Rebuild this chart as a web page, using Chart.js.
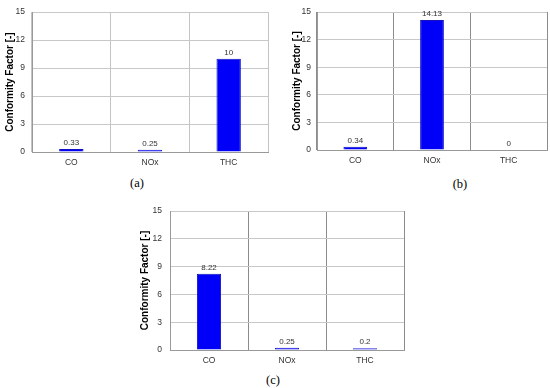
<!DOCTYPE html>
<html>
<head>
<meta charset="utf-8">
<script src="https://cdn.jsdelivr.net/npm/chart.js@4/dist/chart.umd.min.js"></script>
<style>
  html, body { margin: 0; padding: 0; background: #fff; }
  body { width: 550px; height: 388px; position: relative; overflow: hidden; }
  canvas { position: absolute; }
  .cap { position: absolute; font-family: "Liberation Serif", "DejaVu Serif", serif; font-size: 12.5px; color: #000; transform: translate(-50%, -50%); white-space: nowrap; }
</style>
</head>
<body>
<canvas id="ca" width="275" height="172" style="left:0px;top:0px;"></canvas>
<canvas id="cb" width="270" height="170" style="left:280px;top:0px;"></canvas>
<canvas id="cc" width="280" height="172" style="left:130px;top:195px;"></canvas>
<div class="cap" style="left:137px;top:183px;">(a)</div>
<div class="cap" style="left:460px;top:184px;">(b)</div>
<div class="cap" style="left:273px;top:380px;">(c)</div>
<script>
const categories = ["CO", "NOx", "THC"];
const valuesA = [0.33, 0.25, 10];
const valuesB = [0.34, 14.13, 0];
const valuesC = [8.22, 0.25, 0.2];
const yTicks = [0, 3, 6, 9, 12, 15];
const yTitle = "Conformity Factor [-]";

const valueLabels = {
  id: 'valueLabels',
  afterDatasetsDraw(chart) {
    const ctx = chart.ctx;
    const meta = chart.getDatasetMeta(0);
    const data = chart.data.datasets[0].data;
    ctx.save();
    ctx.font = '8px "Liberation Sans", Arial, sans-serif';
    ctx.fillStyle = '#333';
    ctx.textAlign = 'center';
    ctx.textBaseline = 'bottom';
    meta.data.forEach((bar, i) => {
      ctx.fillText(String(data[i]), bar.x, bar.y - 2);
    });
    ctx.restore();
  }
};

function makeChart(id, values, cfg) {
  return new Chart(document.getElementById(id), {
    type: 'bar',
    data: {
      labels: categories,
      datasets: [{
        data: values,
        backgroundColor: '#0000f8',
        borderColor: '#1010c0',
        borderWidth: 1,
        categoryPercentage: 1,
        barPercentage: 0.31
      }]
    },
    options: {
      responsive: false,
      animation: false,
      devicePixelRatio: 1,
      layout: { padding: { left: 0, top: cfg.top, right: cfg.right, bottom: 0 } },
      plugins: { legend: { display: false }, tooltip: { enabled: false } },
      scales: {
        x: {
          grid: { display: true, offset: true, color: cfg.vgrid, lineWidth: 1, drawTicks: false },
          border: { display: true, color: '#999' },
          ticks: { font: { family: '"Liberation Sans", Arial, sans-serif', size: 8.5 }, color: '#333', padding: 6 },
          afterFit: (s) => { s.height = cfg.xh; }
        },
        y: {
          min: 0, max: 15,
          afterBuildTicks: (s) => { s.ticks = yTicks.map(v => ({ value: v })); },
          grid: { color: '#c8c8c8', lineWidth: 1, drawTicks: false },
          border: { display: true, color: '#999' },
          ticks: { font: { family: '"Liberation Sans", Arial, sans-serif', size: 8.5 }, color: '#333', padding: cfg.tp },
          title: {
            display: true, text: yTitle, color: '#000',
            font: { family: '"Liberation Sans", Arial, sans-serif', size: 10, weight: 'bold' },
            padding: { top: cfg.titlePad, bottom: 0 }
          },
          afterFit: (s) => { s.width = cfg.yw; }
        }
      }
    },
    plugins: [valueLabels]
  });
}

makeChart('ca', valuesA, { top: 12, right: 7, xh: 20, yw: 32, tp: 7, titlePad: 4, vgrid: '#c4c4c4' });
makeChart('cb', valuesB, { top: 12, right: 3, xh: 20, yw: 37, tp: 6, titlePad: 11, vgrid: '#8c8c8c' });
makeChart('cc', valuesC, { top: 16, right: 6, xh: 17, yw: 40, tp: 8, titlePad: 9, vgrid: '#8c8c8c' });
</script>
</body>
</html>
